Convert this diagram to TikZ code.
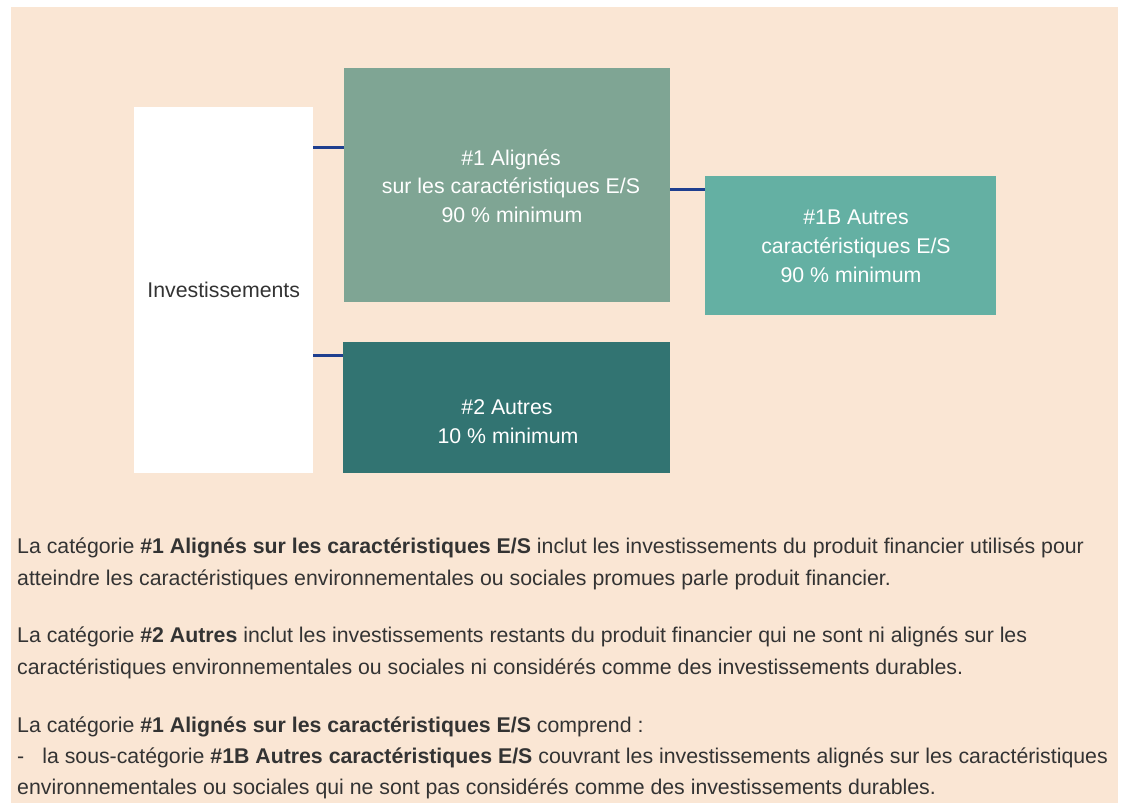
\documentclass[tikz,border=0pt]{standalone}
\usepackage{fontspec}
\setmainfont{Liberation Sans}
\usepackage{xcolor}
\usepackage{tikz}
\usetikzlibrary{positioning}
\definecolor{paper}{HTML}{FAE6D4}
\definecolor{sage}{HTML}{7FA594}
\definecolor{teal1b}{HTML}{64B0A3}
\definecolor{deepteal}{HTML}{327472}
\definecolor{linkblue}{HTML}{1F3F8F}
\definecolor{ink}{HTML}{333333}
\tikzstyle{box} = [rectangle, inner sep=0pt, anchor=north west]
\tikzstyle{link} = [draw=linkblue, line width=3pt]
\tikzstyle{txt} = [inner sep=0pt, font={\fontsize{21.3}{25}\selectfont}, text=ink]
\tikzstyle{boxtxt} = [txt, text=white, anchor=base]
\tikzstyle{para} = [txt, anchor=base west]

\begin{document}
\begin{tikzpicture}[
      x=1pt, y=-1pt
    ]
      \useasboundingbox (0,0) rectangle (1123,803);
      \fill[paper] (11,7) rectangle (1118,803);

      % boxes
      \node[box, fill=white, minimum width=179pt, minimum height=366pt,
            font={\fontsize{21.3}{25}\selectfont}, text=ink] (inv) at (134,107) {Investissements};
      \node[box, fill=sage, minimum width=326pt, minimum height=234pt] (ali) at (344,68) {};
      \node[box, fill=teal1b, minimum width=291pt, minimum height=139pt] (oth) at (705,176) {};
      \node[box, fill=deepteal, minimum width=327pt, minimum height=131pt] (aut) at (343,342) {};

      \node[boxtxt] (ali1) at (511,165)   {\#1 Alignés};
      \node[boxtxt] (ali2) at (511,193.5) {sur les caractéristiques E/S};
      \node[boxtxt] (ali3) at (512,222)   {90 \% minimum};

      \node[boxtxt] (oth1) at (856,224) {\#1B Autres};
      \node[boxtxt] (oth2) at (856,253) {caractéristiques E/S};
      \node[boxtxt] (oth3) at (851,282) {90 \% minimum};

      \node[boxtxt] (aut1) at (507,414) {\#2 Autres};
      \node[boxtxt] (aut2) at (508,443) {10 \% minimum};

      % connectors
      \draw[link] (inv.east |- 0,147) -- (ali.west |- 0,147);
      \draw[link] (ali.east |- 0,189) -- (oth.west |- 0,189);
      \draw[link] (inv.east |- 0,355) -- (aut.west |- 0,355);

      % notes
      \node[para] (p1a) at (17,553) {La catégorie \textbf{\#1 Alignés sur les caractéristiques E/S} inclut les investissements du produit financier utilisés pour};
      \node[para] (p1b) at (17,585) {atteindre les caractéristiques environnementales ou sociales promues parle produit financier.};
      \node[para] (p2a) at (17,642) {La catégorie \textbf{\#2 Autres} inclut les investissements restants du produit financier qui ne sont ni alignés sur les};
      \node[para] (p2b) at (17,674) {caractéristiques environnementales ou sociales ni considérés comme des investissements durables.};
      \node[para] (p3a) at (17,732) {La catégorie \textbf{\#1 Alignés sur les caractéristiques E/S} comprend :};
      \node[para] (p3b) at (17,763) {-\hspace{18pt}la sous-catégorie \textbf{\#1B Autres caractéristiques E/S} couvrant les investissements alignés sur les caractéristiques};
      \node[para] (p3c) at (17,794) {environnementales ou sociales qui ne sont pas considérés comme des investissements durables.};
    \end{tikzpicture}
\end{document}
